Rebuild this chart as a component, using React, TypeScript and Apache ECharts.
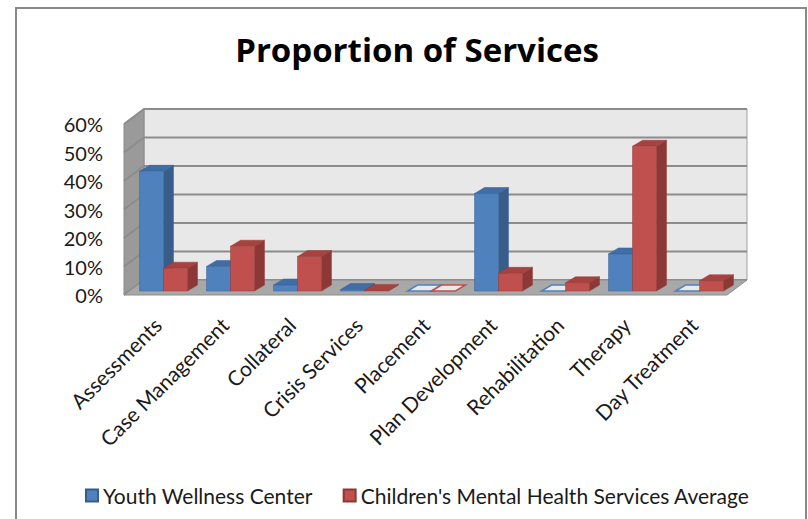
import React, { useEffect, useRef } from "react";
import * as echarts from "echarts";

const categories = [
  "Assessments",
  "Case Management",
  "Collateral",
  "Crisis Services",
  "Placement",
  "Plan Development",
  "Rehabilitation",
  "Therapy",
  "Day Treatment",
];
const seriesNames = ["Youth Wellness Center", "Children's Mental Health Services Average"];
const youthWellness = [0.42, 0.086, 0.021, 0.005, 0, 0.342, 0, 0.13, 0];
const cmhsAverage = [0.08, 0.157, 0.121, 0.002, 0, 0.062, 0.029, 0.508, 0.036];
const yTicks = [0, 0.1, 0.2, 0.3, 0.4, 0.5, 0.6];

const FONT = "Lato, 'Liberation Sans', sans-serif";
const TITLE_FONT = "'Open Sans', Lato, sans-serif";
// depth offsets
const DX = 20;
const DY = -15;
const OX = 6; // bar front plane offset
const OY = -4;
const BDX = 10; // bar depth
const BDY = -6;

const colors = [
  { front: "#4f81bd", side: "#385d8a", top: "#3f6da6", edge: "#3a6396" },
  { front: "#c0504d", side: "#8c3836", top: "#a8423f", edge: "#953d3a" },
];

function barRender(si: number) {
  return (params: any, api: any) => {
    const ci = api.value(0);
    const v = api.value(1);
    const base = api.coord([ci, 0]);
    const top = api.coord([ci, v]);
    const band = api.size([1, 0])[0];
    const w = band * 0.358;
    const cx = base[0] + OX;
    const xL = si === 0 ? cx - w : cx;
    const xR = xL + w;
    const yB = base[1] + OY;
    const yT = top[1] + OY;
    const c = colors[si];
    if (v <= 0) {
      return {
        type: "polygon",
        shape: {
          points: [
            [xL, yB],
            [xR, yB],
            [xR + BDX, yB + BDY],
            [xL + BDX, yB + BDY],
          ],
        },
        style: { fill: "rgba(240,240,240,0.9)", stroke: c.front, lineWidth: 1.5 },
      };
    }
    return {
      type: "group",
      children: [
        {
          type: "polygon",
          shape: {
            points: [
              [xR, yB],
              [xR + BDX, yB + BDY],
              [xR + BDX, yT + BDY],
              [xR, yT],
            ],
          },
          style: { fill: c.side, stroke: c.edge, lineWidth: 0.5 },
        },
        {
          type: "polygon",
          shape: {
            points: [
              [xL, yT],
              [xR, yT],
              [xR + BDX, yT + BDY],
              [xL + BDX, yT + BDY],
            ],
          },
          style: { fill: c.top, stroke: c.edge, lineWidth: 0.5 },
        },
        {
          type: "rect",
          shape: { x: xL, y: yT, width: w, height: yB - yT },
          style: { fill: c.front, stroke: c.edge, lineWidth: 0.5 },
        },
      ],
    };
  };
}

function wallRender(params: any, api: any) {
  const band = api.size([1, 0])[0];
  const x0 = api.coord([0, 0])[0] - band / 2;
  const x1 = api.coord([categories.length - 1, 0])[0] + band / 2;
  const y0 = api.coord([0, 0])[1];
  const yTop = api.coord([0, yTicks[yTicks.length - 1]])[1];
  const children: any[] = [];
  children.push({
    type: "rect",
    shape: { x: x0 + DX, y: yTop + DY, width: x1 - x0, height: y0 - yTop },
    style: { fill: "#e8e8e8", stroke: "#a0a0a0", lineWidth: 1 },
  });
  children.push({
    type: "polygon",
    shape: {
      points: [
        [x0, y0],
        [x0, yTop],
        [x0 + DX, yTop + DY],
        [x0 + DX, y0 + DY],
      ],
    },
    style: { fill: "#9a9a9a", stroke: "#8a8a8a", lineWidth: 1 },
  });
  yTicks.forEach((t) => {
    const y = api.coord([0, t])[1];
    children.push({
      type: "polyline",
      shape: {
        points: [
          [x0, y],
          [x0 + DX, y + DY],
          [x1 + DX, y + DY],
        ],
      },
      style: { stroke: "#8c8c8c", lineWidth: 2, fill: null },
    });
  });
  children.push({
    type: "polygon",
    shape: {
      points: [
        [x0, y0],
        [x1, y0],
        [x1 + DX, y0 + DY],
        [x0 + DX, y0 + DY],
      ],
    },
    style: { fill: "#a8a8a8", stroke: "#8c8c8c", lineWidth: 1 },
  });
  return { type: "group", children };
}

export default function App() {
  const ref = useRef<HTMLDivElement>(null);
  useEffect(() => {
    if (!ref.current) return;
    const chart = echarts.init(ref.current, undefined, { renderer: "svg" });
    chart.setOption({
      animation: false,
      backgroundColor: "#ffffff",
      title: {
        text: "Proportion of Services",
        left: 412,
        top: 28,
        textAlign: "center",
        textStyle: { fontFamily: TITLE_FONT, fontWeight: "bold", fontSize: 33, color: "#000" },
      },
      legend: {
        data: seriesNames,
        left: 80,
        top: 480,
        icon: "rect",
        itemWidth: 12,
        itemHeight: 12,
        itemGap: 30,
        textStyle: { fontFamily: FONT, fontSize: 21, color: "#1a1a1a" },
      },
      grid: { left: 124, right: 81, top: 124, bottom: 224, containLabel: false },
      xAxis: {
        type: "category",
        data: categories,
        axisLine: { show: false },
        axisTick: { show: false },
        axisLabel: {
          rotate: 45,
          margin: 26,
          interval: 0,
          fontFamily: FONT,
          fontSize: 21,
          color: "#1a1a1a",
        },
      },
      yAxis: {
        type: "value",
        min: 0,
        max: 0.6,
        interval: 0.1,
        axisLine: { show: false },
        axisTick: { show: false },
        splitLine: { show: false },
        axisLabel: {
          margin: 21,
          fontFamily: FONT,
          fontSize: 20,
          color: "#1a1a1a",
          formatter: (v: number) => Math.round(v * 100) + "%",
        },
      },
      graphic: [
        {
          type: "rect",
          shape: { x: 16, y: 8, width: 790, height: 540 },
          style: { fill: null, stroke: "#888888", lineWidth: 2 },
          z: 100,
          silent: true,
        },
      ],
      series: [
        {
          type: "custom",
          name: "walls",
          renderItem: wallRender,
          data: [[0, 0]],
          silent: true,
          z: 1,
        },
        {
          type: "custom",
          name: seriesNames[0],
          renderItem: barRender(0),
          data: youthWellness.map((v, i) => [i, v]),
          itemStyle: { color: colors[0].front, borderColor: colors[0].side, borderWidth: 1 },
          z: 2,
        },
        {
          type: "custom",
          name: seriesNames[1],
          renderItem: barRender(1),
          data: cmhsAverage.map((v, i) => [i, v]),
          itemStyle: { color: colors[1].front, borderColor: colors[1].side, borderWidth: 1 },
          z: 3,
        },
      ],
    });
    return () => chart.dispose();
  }, []);
  return (
    <div
      ref={ref}
      style={{ position: "fixed", left: 0, top: 0, width: 808, height: 519 }}
    />
  );
}
